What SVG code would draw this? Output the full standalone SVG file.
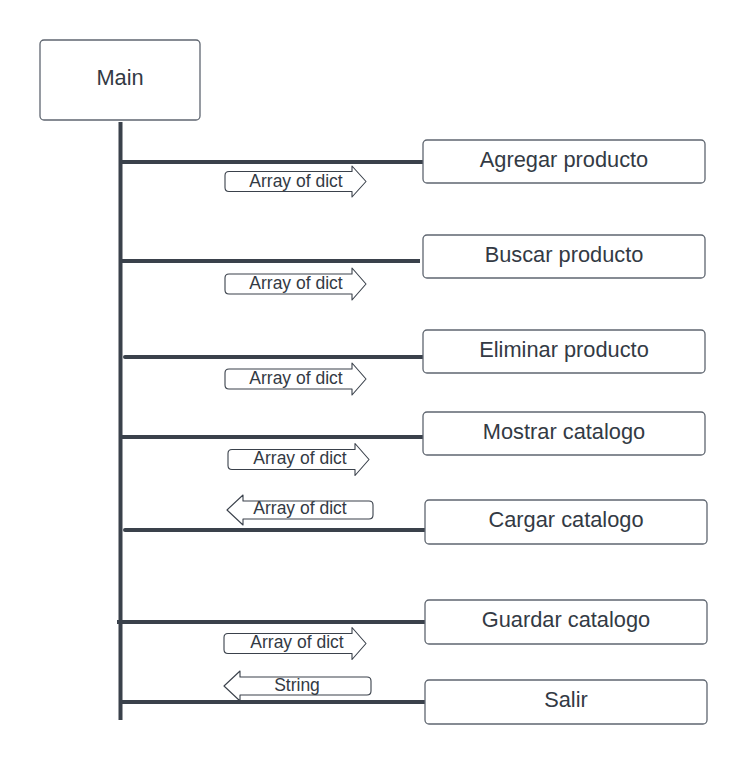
<svg xmlns="http://www.w3.org/2000/svg" width="747" height="764" viewBox="0 0 747 764">
<style>
.box{fill:#fff;stroke:#5f6670;stroke-width:1.3}
.lbl{font-family:"Liberation Sans",Arial,sans-serif;font-size:21.8px;fill:#333a44;text-anchor:middle}
.alb{font-family:"Liberation Sans",Arial,sans-serif;font-size:17.5px;fill:#333a44;text-anchor:middle}
.wire{stroke:#3a414b;stroke-width:4;fill:none}
.arr{fill:#fff;stroke:#3a414b;stroke-width:1.1;stroke-linejoin:round}
</style>
<rect width="747" height="764" fill="#fff"/>
<g id="connectors">
<line class="wire" x1="120.5" y1="122" x2="120.5" y2="720" stroke-width="5"/>
<line class="wire" x1="120" y1="162" x2="423" y2="162"/>
<line class="wire" x1="120" y1="261" x2="420" y2="261"/>
<line class="wire" x1="125" y1="357" x2="423" y2="357" stroke-linecap="round"/>
<line class="wire" x1="120" y1="437" x2="423" y2="437"/>
<line class="wire" x1="125" y1="530" x2="425" y2="530" stroke-linecap="round"/>
<line class="wire" x1="117" y1="622" x2="425" y2="622"/>
<line class="wire" x1="120" y1="702" x2="425" y2="702"/>
</g>
<g id="flow1">
<path class="arr" d="M229,171.5 L352,171.5 L352,166 L366,181.5 L352,197 L352,191.5 L229,191.5 Q225,191.5 225,187.5 L225,175.5 Q225,171.5 229,171.5 Z"/>
<text class="alb" x="296" y="186.5">Array of dict</text>
</g>
<g id="flow2">
<path class="arr" d="M229,274 L352,274 L352,268 L366,284 L352,300 L352,294 L229,294 Q225,294 225,290 L225,278 Q225,274 229,274 Z"/>
<text class="alb" x="296" y="289">Array of dict</text>
</g>
<g id="flow3">
<path class="arr" d="M229,369 L352,369 L352,363 L366,379 L352,395 L352,389 L229,389 Q225,389 225,385 L225,373 Q225,369 229,369 Z"/>
<text class="alb" x="296" y="384">Array of dict</text>
</g>
<g id="flow4">
<path class="arr" d="M232,449.5 L355,449.5 L355,443.5 L369,459.5 L355,475.5 L355,469.5 L232,469.5 Q228,469.5 228,465.5 L228,453.5 Q228,449.5 232,449.5 Z"/>
<text class="alb" x="300" y="464">Array of dict</text>
</g>
<g id="flow5">
<path class="arr" d="M369,501 L243,501 L243,495 L227,510 L243,525 L243,519 L369,519 Q373,519 373,515 L373,505 Q373,501 369,501 Z"/>
<text class="alb" x="300" y="514">Array of dict</text>
</g>
<g id="flow6">
<path class="arr" d="M228,633.5 L352,633.5 L352,627.5 L366,643.5 L352,659.5 L352,653.5 L228,653.5 Q224,653.5 224,649.5 L224,637.5 Q224,633.5 228,633.5 Z"/>
<text class="alb" x="297" y="648">Array of dict</text>
</g>
<g id="flow7">
<path class="arr" d="M367,677 L240,677 L240,671 L224,686 L240,701 L240,695 L367,695 Q371,695 371,691 L371,681 Q371,677 367,677 Z"/>
<text class="alb" x="297" y="691">String</text>
</g>
<g id="main">
<rect class="box" x="40" y="40" width="160" height="80" rx="4"/>
<text class="lbl" x="120" y="85">Main</text>
</g>
<g id="agregar">
<rect class="box" x="423" y="140" width="282" height="43" rx="4"/>
<text class="lbl" x="564" y="167">Agregar producto</text>
</g>
<g id="buscar">
<rect class="box" x="423" y="235" width="282" height="43" rx="4"/>
<text class="lbl" x="564" y="262">Buscar producto</text>
</g>
<g id="eliminar">
<rect class="box" x="423" y="330" width="282" height="43" rx="4"/>
<text class="lbl" x="564" y="357">Eliminar producto</text>
</g>
<g id="mostrar">
<rect class="box" x="423" y="412" width="282" height="43" rx="4"/>
<text class="lbl" x="564" y="439">Mostrar catalogo</text>
</g>
<g id="cargar">
<rect class="box" x="425" y="500" width="282" height="44" rx="4"/>
<text class="lbl" x="566" y="527">Cargar catalogo</text>
</g>
<g id="guardar">
<rect class="box" x="425" y="600" width="282" height="44" rx="4"/>
<text class="lbl" x="566" y="627">Guardar catalogo</text>
</g>
<g id="salir">
<rect class="box" x="425" y="680" width="282" height="44" rx="4"/>
<text class="lbl" x="566" y="707">Salir</text>
</g>
</svg>
